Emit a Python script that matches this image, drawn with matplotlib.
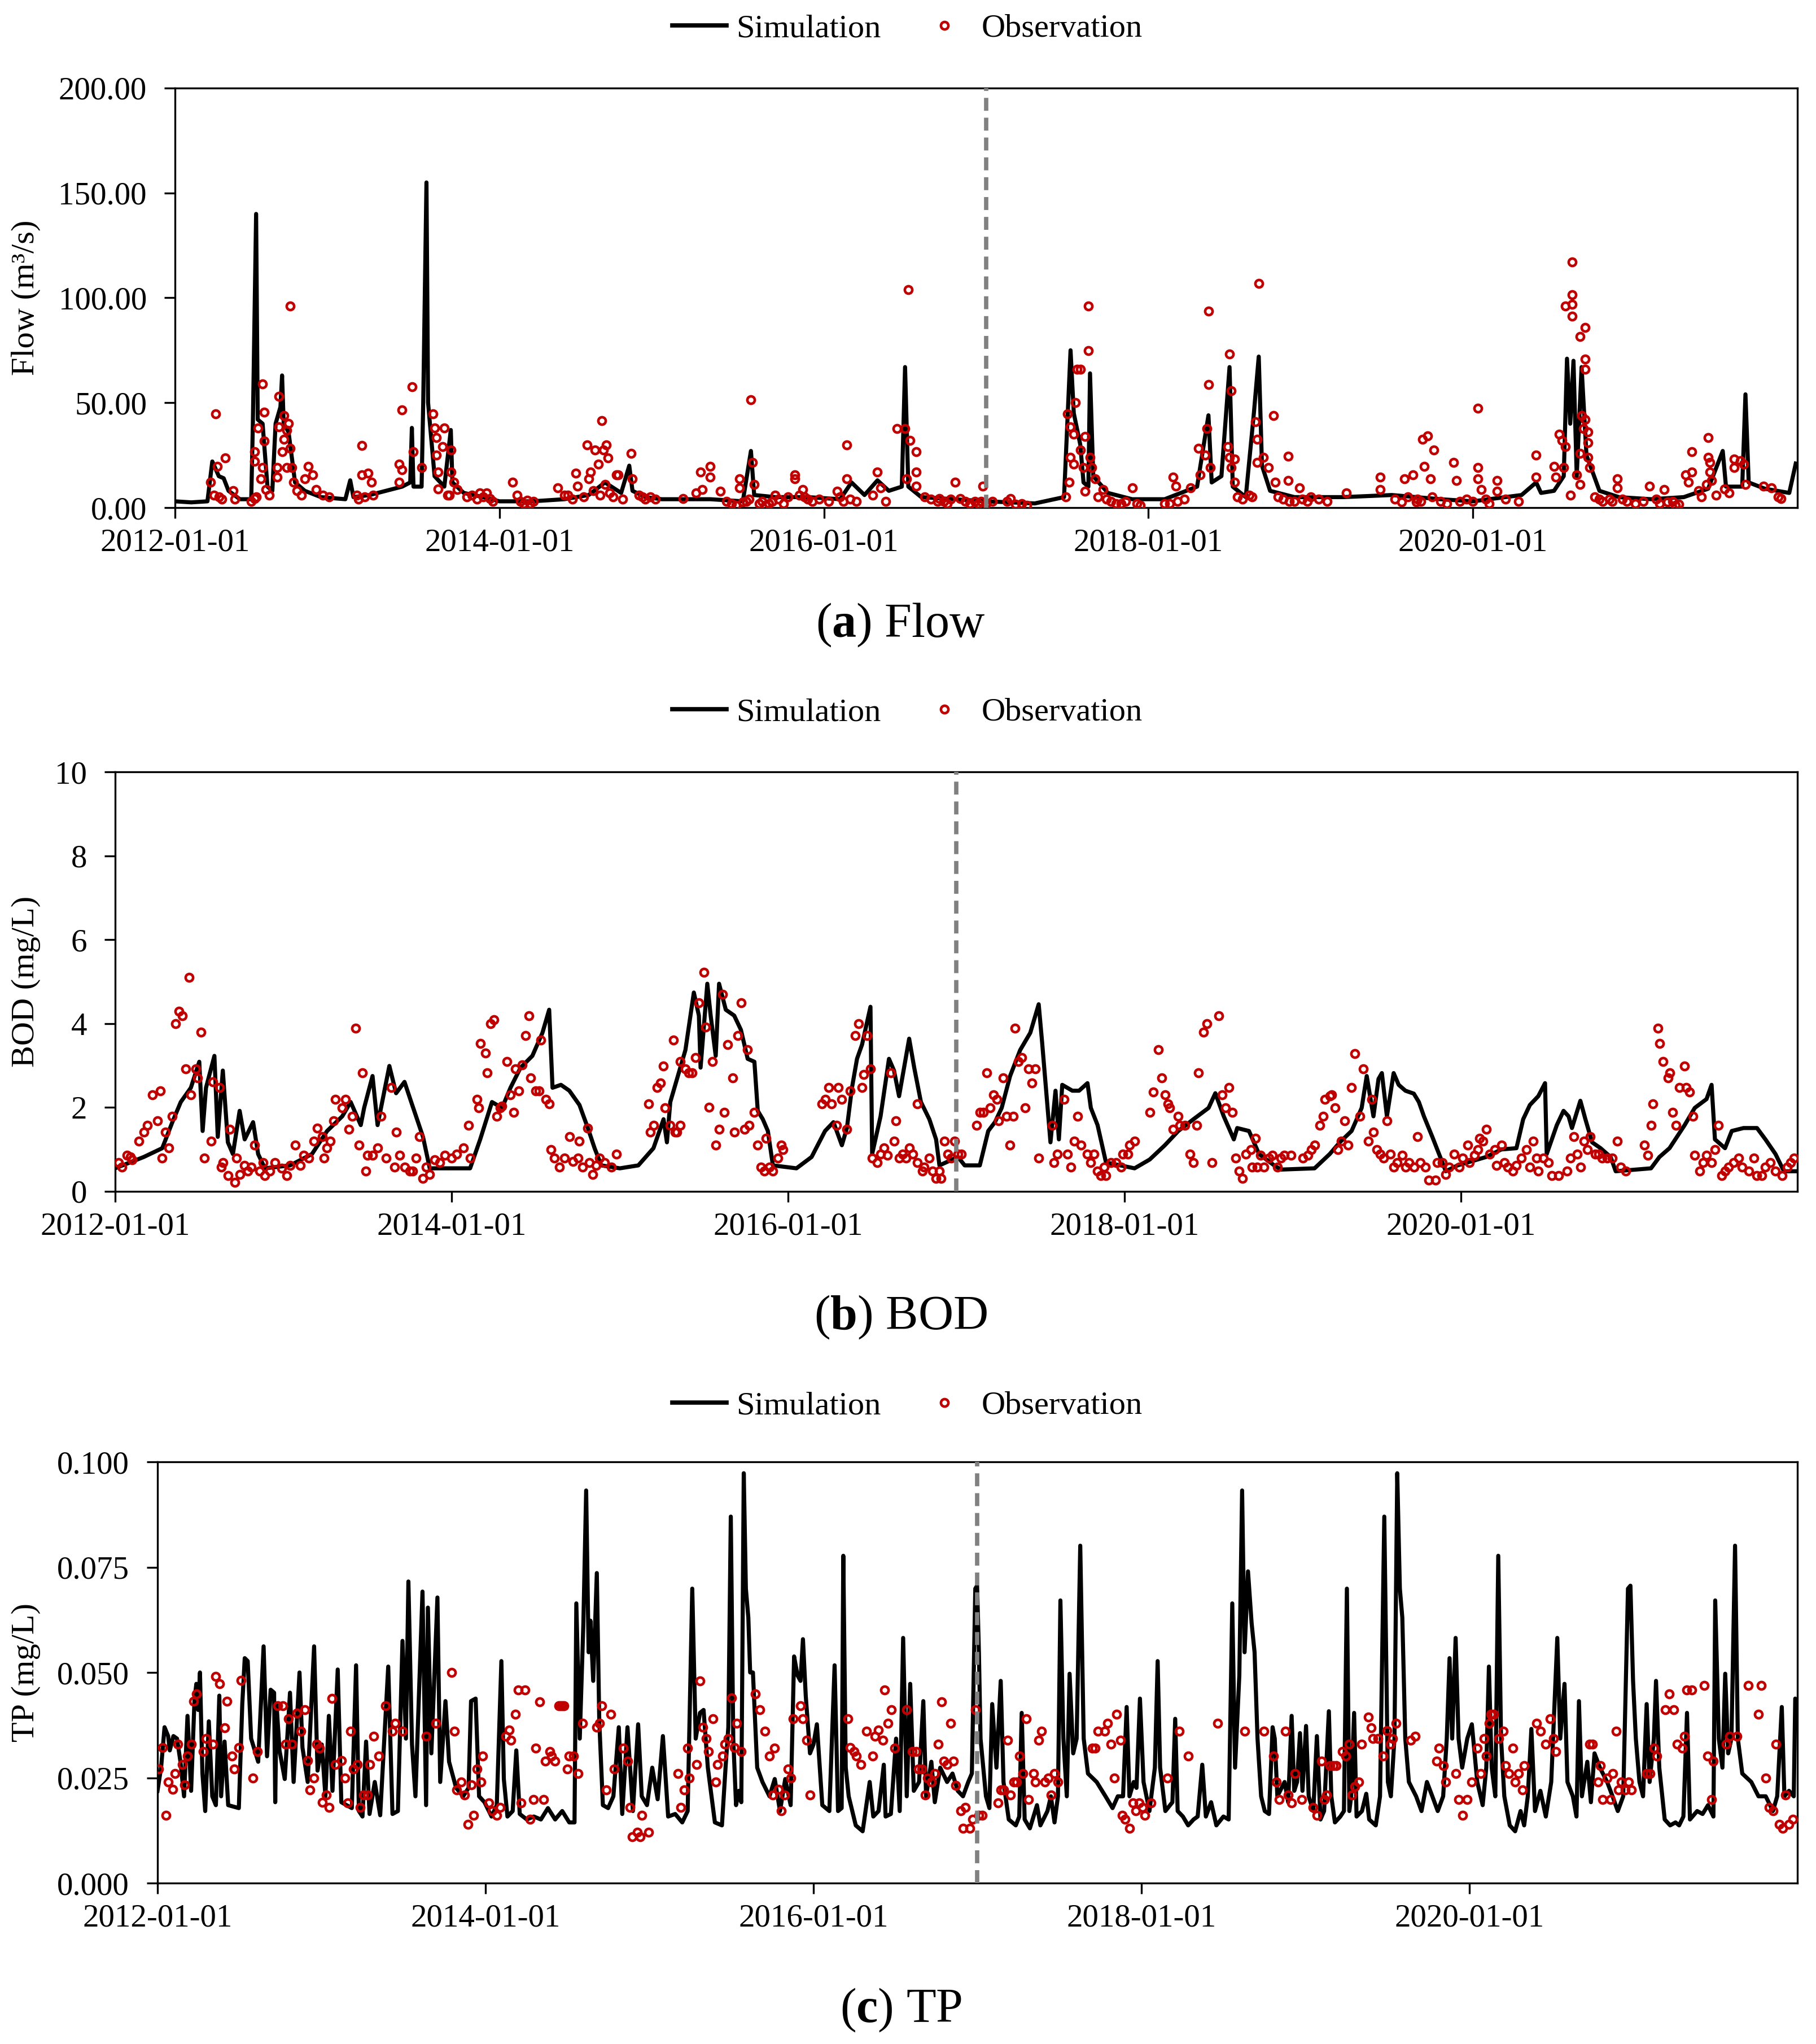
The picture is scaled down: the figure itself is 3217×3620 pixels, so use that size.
import matplotlib
matplotlib.use("Agg")
import matplotlib.pyplot as plt
from matplotlib.lines import Line2D
import numpy as np

plt.rcParams['font.family'] = ['Liberation Serif', 'DejaVu Serif']
plt.rcParams['mathtext.fontset'] = 'custom'
plt.rcParams['mathtext.rm'] = 'Liberation Serif'
plt.rcParams['mathtext.bf'] = 'Liberation Serif:bold'

# ---- x axis (decimal years) ----
year_ticks = [2012, 2014, 2016, 2018, 2020]
year_labels = ["2012-01-01", "2014-01-01", "2016-01-01", "2018-01-01", "2020-01-01"]
split_year = 2017.0

# ---- (a) Flow, m3/s ----
flow_sim = [
    (2012.00, 3), (2012.10, 2.5), (2012.20, 3), (2012.23, 22), (2012.27, 15), (2012.30, 14), (2012.33, 8),
    (2012.40, 4), (2012.47, 4), (2012.48, 40), (2012.50, 140), (2012.51, 42), (2012.54, 40), (2012.57, 10),
    (2012.60, 8), (2012.62, 40), (2012.65, 48), (2012.66, 63), (2012.67, 40), (2012.70, 36), (2012.74, 12),
    (2012.80, 8), (2012.90, 5), (2013.05, 4), (2013.08, 13), (2013.10, 5), (2013.20, 6), (2013.30, 8),
    (2013.40, 10), (2013.45, 12), (2013.46, 38), (2013.47, 10), (2013.52, 10), (2013.53, 50), (2013.55, 155),
    (2013.56, 50), (2013.60, 15), (2013.66, 10), (2013.70, 37), (2013.71, 12), (2013.78, 7), (2013.90, 5),
    (2014.00, 3), (2014.20, 3), (2014.40, 4), (2014.55, 6), (2014.65, 12), (2014.75, 7), (2014.80, 20),
    (2014.82, 8), (2014.90, 5), (2015.00, 4), (2015.30, 4), (2015.50, 3), (2015.55, 27), (2015.57, 6),
    (2015.70, 5), (2015.90, 5), (2016.10, 4), (2016.17, 12), (2016.25, 6), (2016.33, 13), (2016.40, 8),
    (2016.48, 10), (2016.50, 67), (2016.52, 10), (2016.60, 5), (2016.80, 4), (2017.00, 3), (2017.30, 2),
    (2017.48, 5), (2017.50, 40), (2017.52, 75), (2017.54, 45), (2017.58, 30), (2017.60, 12), (2017.63, 10),
    (2017.64, 64), (2017.66, 15), (2017.75, 7), (2017.90, 4), (2018.10, 4), (2018.30, 10), (2018.37, 44),
    (2018.39, 12), (2018.45, 15), (2018.50, 67), (2018.52, 10), (2018.60, 5), (2018.65, 45), (2018.68, 72),
    (2018.70, 20), (2018.75, 8), (2018.90, 5), (2019.20, 5), (2019.50, 6), (2019.80, 4), (2020.00, 3),
    (2020.30, 6), (2020.39, 12), (2020.42, 7), (2020.50, 8), (2020.56, 15), (2020.58, 71), (2020.60, 40),
    (2020.62, 70), (2020.64, 15), (2020.67, 67), (2020.70, 25), (2020.78, 8), (2020.90, 5), (2021.10, 4),
    (2021.30, 5), (2021.45, 9), (2021.54, 27), (2021.56, 10), (2021.66, 10), (2021.68, 54), (2021.70, 12),
    (2021.80, 9), (2021.95, 7), (2021.99, 21),
]
flow_obs = [
    (2012.22, 12), (2012.24, 6), (2012.25, 44.6), (2012.26, 19.7), (2012.31, 23.7), (2012.36, 8), (2012.37, 4),
    (2012.49, 26.6), (2012.49, 22), (2012.51, 38), (2012.53, 13.7), (2012.54, 59), (2012.55, 45.5),
    (2012.55, 31.8), (2012.54, 19), (2012.56, 8.6), (2012.49, 4.3), (2012.64, 53), (2012.64, 38.6),
    (2012.63, 19), (2012.63, 14.6), (2012.66, 26.6), (2012.67, 43.8), (2012.67, 32.6), (2012.69, 37),
    (2012.69, 19), (2012.70, 40), (2012.71, 96), (2012.71, 28.3), (2012.72, 19), (2012.73, 12), (2012.82, 19.7),
    (2012.80, 13.7), (2012.85, 15.5), (2012.87, 8.6), (2012.91, 6), (2013.15, 29.5), (2013.15, 15.5),
    (2013.19, 16.3), (2013.21, 12), (2013.12, 6), (2013.38, 20.6), (2013.40, 46.7), (2013.40, 18),
    (2013.38, 12), (2013.46, 57.5), (2013.47, 26.6), (2013.52, 19), (2013.59, 44.6), (2013.60, 38),
    (2013.61, 33.5), (2013.61, 25), (2013.62, 17), (2013.65, 29), (2013.66, 38), (2013.70, 27.5), (2013.70, 17),
    (2013.72, 12), (2013.74, 8.6), (2013.69, 6), (2013.92, 7), (2013.94, 4.3), (2014.08, 12), (2014.11, 6),
    (2014.17, 3.4), (2014.36, 9.4), (2014.42, 6), (2014.47, 16.3), (2014.48, 10.3), (2014.54, 30),
    (2014.55, 13.7), (2014.56, 17), (2014.59, 27.5), (2014.61, 20.6), (2014.63, 41.5), (2014.64, 27.5),
    (2014.66, 30), (2014.67, 23.7), (2014.65, 11), (2014.72, 15.5), (2014.73, 15.5), (2014.81, 25.8),
    (2014.82, 13.7), (2014.86, 6), (2014.93, 5), (2015.13, 4.3), (2015.21, 7), (2015.24, 17), (2015.30, 19.7),
    (2015.30, 14.6), (2015.25, 8.6), (2015.36, 7.7), (2015.48, 13.7), (2015.48, 9.4), (2015.55, 51.5),
    (2015.56, 21.5), (2015.57, 11), (2015.50, 2.6), (2015.70, 6), (2015.82, 15.5), (2015.82, 13.7),
    (2015.87, 8.6), (2016.08, 7.7), (2016.14, 30), (2016.14, 13.7), (2016.33, 17), (2016.35, 9.4),
    (2016.45, 37.8), (2016.52, 104), (2016.50, 37.8), (2016.53, 32), (2016.57, 26.6), (2016.57, 17),
    (2016.51, 13.7), (2016.57, 10.3), (2016.81, 12), (2016.71, 4.3), (2016.98, 10.3), (2016.84, 4.3),
    (2017.15, 4.3), (2017.18, 1.7), (2017.49, 5), (2017.50, 44.6), (2017.52, 38.6), (2017.54, 35),
    (2017.55, 50), (2017.56, 66), (2017.58, 66), (2017.52, 24), (2017.54, 20.6), (2017.58, 27.5),
    (2017.60, 19), (2017.61, 34), (2017.63, 96), (2017.63, 74.7), (2017.64, 24), (2017.65, 19), (2017.67, 13.7),
    (2017.61, 7.7), (2017.51, 12), (2017.72, 8.6), (2017.90, 9.4), (2018.15, 14.6), (2018.17, 10.3),
    (2018.26, 9.4), (2018.31, 28.3), (2018.32, 15.5), (2018.35, 25), (2018.36, 37.8), (2018.37, 58.7),
    (2018.37, 93.6), (2018.38, 19), (2018.49, 29), (2018.50, 24), (2018.50, 73.3), (2018.51, 55.8),
    (2018.53, 23.2), (2018.51, 19), (2018.53, 12), (2018.55, 5), (2018.64, 5), (2018.66, 41), (2018.67, 32.6),
    (2018.67, 21.5), (2018.68, 106.8), (2018.71, 24), (2018.74, 19), (2018.77, 43.8), (2018.78, 12),
    (2018.86, 24.4), (2018.86, 12.9), (2018.93, 9.4), (2019.00, 5), (2019.22, 7), (2019.43, 14.6),
    (2019.43, 8.6), (2019.56, 2.6), (2019.58, 13.7), (2019.63, 15.5), (2019.69, 32.6), (2019.72, 34.3),
    (2019.70, 19.7), (2019.74, 13.7), (2019.76, 27.5), (2019.65, 2.6), (2019.88, 21.5), (2019.90, 12.9),
    (2020.03, 19), (2020.03, 47.5), (2020.03, 13.7), (2020.05, 8.6), (2020.15, 12.9), (2020.15, 7.7),
    (2020.39, 25), (2020.39, 14.6), (2020.50, 19.7), (2020.51, 14.6), (2020.53, 35), (2020.55, 32),
    (2020.56, 19), (2020.57, 29), (2020.57, 96), (2020.61, 117), (2020.61, 101.6), (2020.61, 97),
    (2020.61, 91.3), (2020.66, 25.8), (2020.66, 81.5), (2020.67, 43.8), (2020.68, 37.8), (2020.69, 86),
    (2020.69, 70.7), (2020.69, 66), (2020.69, 42), (2020.71, 36), (2020.71, 31), (2020.71, 24), (2020.72, 19),
    (2020.64, 15.5), (2020.66, 11), (2020.89, 13.7), (2020.89, 9.4), (2021.09, 10.3), (2021.18, 8.6),
    (2021.20, 2.6), (2021.27, 1.7), (2021.31, 15.5), (2021.33, 12), (2021.35, 26.6), (2021.35, 17),
    (2021.45, 33.5), (2021.45, 24), (2021.46, 17), (2021.47, 12.9), (2021.46, 21.5), (2021.44, 11),
    (2021.61, 19), (2021.61, 23.2), (2021.65, 22.3), (2021.67, 20.6), (2021.68, 11), (2021.79, 10.3),
    (2021.84, 9.4), (2021.90, 4.3), (2021.88, 5),
]
flow_obs_low = [
    (2012.27, 5), (2012.29, 4), (2012.47, 3), (2012.50, 5), (2012.58, 6), (2012.75, 8), (2012.78, 6),
    (2012.95, 5), (2013.13, 4), (2013.17, 5), (2013.22, 6), (2013.62, 9), (2013.68, 6), (2013.80, 5),
    (2013.83, 6), (2013.86, 4), (2013.88, 7), (2013.90, 5), (2013.96, 3), (2014.13, 3), (2014.15, 2),
    (2014.19, 2), (2014.21, 3), (2014.40, 6), (2014.45, 4), (2014.52, 5), (2014.58, 8), (2014.62, 6),
    (2014.68, 7), (2014.70, 5), (2014.76, 4), (2014.88, 5), (2014.90, 4), (2014.96, 4), (2015.40, 3),
    (2015.43, 2), (2015.46, 1), (2015.52, 3), (2015.54, 4), (2015.60, 2), (2015.62, 3), (2015.64, 1),
    (2015.66, 2), (2015.68, 3), (2015.72, 4), (2015.75, 2), (2015.78, 5), (2015.85, 6), (2015.88, 5),
    (2015.90, 4), (2015.93, 3), (2015.97, 4), (2016.03, 3), (2016.10, 5), (2016.12, 3), (2016.16, 4),
    (2016.20, 3), (2016.30, 6), (2016.38, 3), (2016.62, 5), (2016.66, 4), (2016.70, 3), (2016.74, 3),
    (2016.76, 2), (2016.78, 4), (2016.87, 3), (2016.90, 2), (2016.93, 3), (2016.95, 2), (2016.97, 3),
    (2017.00, 2), (2017.04, 3), (2017.13, 3), (2017.22, 2), (2017.25, 1), (2017.69, 5), (2017.74, 4),
    (2017.77, 3), (2017.80, 2), (2017.83, 2), (2017.86, 3), (2017.93, 2), (2017.95, 1), (2018.10, 2),
    (2018.13, 2), (2018.18, 3), (2018.22, 4), (2018.58, 4), (2018.62, 6), (2018.80, 5), (2018.83, 4),
    (2018.87, 3), (2018.90, 3), (2018.95, 4), (2018.98, 3), (2019.05, 4), (2019.10, 3), (2019.52, 4),
    (2019.60, 5), (2019.66, 4), (2019.68, 3), (2019.75, 5), (2019.80, 3), (2019.84, 2), (2019.92, 3),
    (2019.96, 4), (2020.00, 3), (2020.08, 4), (2020.10, 2), (2020.20, 4), (2020.28, 3), (2020.60, 6),
    (2020.75, 5), (2020.78, 4), (2020.80, 3), (2020.84, 4), (2020.86, 3), (2020.92, 4), (2020.95, 3),
    (2021.00, 2), (2021.05, 3), (2021.13, 4), (2021.15, 2), (2021.23, 3), (2021.25, 1), (2021.39, 8),
    (2021.41, 5), (2021.50, 6), (2021.55, 9), (2021.58, 7),
]

# ---- (b) BOD, mg/L ----
bod_sim = [
    (2012.00, 0.55), (2012.17, 0.82), (2012.28, 1.03), (2012.34, 1.65), (2012.39, 2.13), (2012.45, 2.47),
    (2012.50, 3.09), (2012.52, 1.44), (2012.54, 2.47), (2012.59, 3.23), (2012.61, 1.30), (2012.64, 2.88),
    (2012.67, 1.17), (2012.70, 0.89), (2012.74, 1.92), (2012.77, 1.24), (2012.82, 1.65), (2012.85, 0.89),
    (2012.89, 0.55), (2013.04, 0.62), (2013.17, 0.89), (2013.26, 1.44), (2013.35, 1.79), (2013.40, 2.13),
    (2013.46, 1.58), (2013.48, 1.99), (2013.53, 2.75), (2013.56, 1.58), (2013.63, 2.99), (2013.67, 2.34),
    (2013.72, 2.61), (2013.76, 2.13), (2013.83, 1.30), (2013.87, 0.55), (2014.11, 0.55), (2014.17, 1.24),
    (2014.24, 2.13), (2014.30, 1.99), (2014.35, 2.47), (2014.41, 2.95), (2014.48, 3.23), (2014.54, 3.78),
    (2014.58, 4.33), (2014.60, 2.47), (2014.65, 2.54), (2014.70, 2.40), (2014.76, 2.06), (2014.81, 1.51),
    (2014.85, 1.03), (2014.89, 0.62), (2015.00, 0.55), (2015.11, 0.62), (2015.20, 1.03), (2015.26, 1.72),
    (2015.28, 1.17), (2015.30, 2.13), (2015.39, 3.37), (2015.44, 4.74), (2015.47, 4.19), (2015.48, 2.95),
    (2015.52, 4.95), (2015.54, 4.19), (2015.57, 3.23), (2015.59, 4.95), (2015.63, 4.33), (2015.68, 4.19),
    (2015.72, 3.85), (2015.76, 3.16), (2015.80, 3.09), (2015.82, 1.92), (2015.85, 1.72), (2015.88, 1.44),
    (2015.91, 0.62), (2016.05, 0.55), (2016.14, 0.82), (2016.22, 1.44), (2016.27, 1.65), (2016.32, 1.10),
    (2016.35, 1.51), (2016.38, 2.47), (2016.41, 3.16), (2016.44, 3.50), (2016.49, 4.40), (2016.50, 0.89),
    (2016.55, 1.79), (2016.60, 3.16), (2016.63, 2.88), (2016.66, 2.27), (2016.72, 3.64), (2016.75, 2.95),
    (2016.79, 2.13), (2016.84, 1.72), (2016.88, 1.24), (2016.90, 0.62), (2017.01, 0.82), (2017.05, 0.62),
    (2017.14, 0.62), (2017.19, 1.44), (2017.23, 1.65), (2017.27, 1.99), (2017.32, 2.75), (2017.38, 3.37),
    (2017.44, 3.78), (2017.49, 4.46), (2017.51, 3.57), (2017.54, 2.13), (2017.56, 1.17), (2017.59, 2.40),
    (2017.61, 1.24), (2017.63, 2.54), (2017.69, 2.40), (2017.73, 2.40), (2017.78, 2.58), (2017.80, 1.99),
    (2017.84, 1.58), (2017.89, 0.69), (2018.06, 0.55), (2018.15, 0.76), (2018.24, 1.10), (2018.32, 1.44),
    (2018.41, 1.72), (2018.50, 1.99), (2018.54, 2.34), (2018.59, 1.79), (2018.65, 1.24), (2018.67, 1.51),
    (2018.74, 1.44), (2018.80, 0.89), (2018.89, 0.62), (2018.93, 0.52), (2019.13, 0.55), (2019.22, 0.89),
    (2019.28, 1.17), (2019.35, 1.44), (2019.41, 1.99), (2019.44, 2.75), (2019.48, 1.79), (2019.51, 2.68),
    (2019.53, 2.82), (2019.56, 1.79), (2019.60, 2.82), (2019.63, 2.54), (2019.67, 2.40), (2019.72, 2.33),
    (2019.75, 2.13), (2019.78, 1.79), (2019.83, 1.30), (2019.87, 0.89), (2019.91, 0.48), (2019.98, 0.62),
    (2020.15, 0.82), (2020.24, 1.00), (2020.33, 1.03), (2020.37, 1.72), (2020.41, 2.06), (2020.46, 2.27),
    (2020.50, 2.58), (2020.51, 0.89), (2020.57, 1.58), (2020.61, 1.92), (2020.64, 1.79), (2020.66, 1.51),
    (2020.71, 2.16), (2020.74, 1.72), (2020.78, 1.17), (2020.83, 1.03), (2020.89, 0.82), (2020.92, 0.48),
    (2021.13, 0.55), (2021.18, 0.82), (2021.24, 1.03), (2021.33, 1.58), (2021.39, 1.99), (2021.46, 2.20),
    (2021.49, 2.54), (2021.51, 1.24), (2021.57, 1.03), (2021.61, 1.44), (2021.68, 1.51), (2021.76, 1.51),
    (2021.81, 1.24), (2021.87, 0.89), (2021.92, 0.48), (2022.00, 0.48),
]
bod_obs = [
    (2012.02, 0.69), (2012.04, 0.58), (2012.07, 0.86), (2012.09, 0.82), (2012.10, 0.76), (2012.14, 1.20),
    (2012.17, 1.41), (2012.19, 1.58), (2012.22, 2.30), (2012.25, 1.68), (2012.27, 2.40), (2012.28, 0.79),
    (2012.30, 1.41), (2012.32, 1.03), (2012.34, 1.79), (2012.36, 4.00), (2012.38, 4.29), (2012.40, 4.19),
    (2012.42, 2.92), (2012.44, 5.10), (2012.45, 2.30), (2012.48, 2.92), (2012.49, 2.71), (2012.51, 3.79),
    (2012.53, 0.79), (2012.57, 1.20), (2012.58, 2.61), (2012.62, 2.47), (2012.63, 0.58), (2012.64, 0.69),
    (2012.67, 0.38), (2012.68, 1.48), (2012.71, 0.21), (2012.72, 0.79), (2012.74, 0.41), (2012.77, 0.62),
    (2012.79, 0.48), (2012.81, 0.58), (2012.83, 1.10), (2012.86, 0.48), (2012.88, 0.69), (2012.89, 0.38),
    (2012.92, 0.48), (2012.95, 0.69), (2012.99, 0.55), (2013.02, 0.38), (2013.04, 0.62), (2013.07, 1.10),
    (2013.10, 0.62), (2013.12, 0.86), (2013.15, 0.79), (2013.18, 1.20), (2013.20, 1.51), (2013.23, 1.30),
    (2013.24, 0.79), (2013.26, 1.03), (2013.28, 1.20), (2013.30, 1.68), (2013.31, 2.20), (2013.35, 1.99),
    (2013.37, 2.20), (2013.39, 1.48), (2013.41, 1.79), (2013.43, 3.89), (2013.45, 1.10), (2013.47, 2.82),
    (2013.49, 0.48), (2013.50, 0.86), (2013.53, 0.86), (2013.56, 1.03), (2013.58, 1.79), (2013.61, 0.79),
    (2013.64, 2.47), (2013.66, 0.58), (2013.67, 1.41), (2013.69, 0.86), (2013.72, 0.58), (2013.75, 0.48),
    (2013.77, 0.48), (2013.79, 0.79), (2013.81, 1.30), (2013.83, 0.31), (2013.85, 0.58), (2013.87, 0.41),
    (2013.90, 0.76), (2013.93, 0.69), (2013.96, 0.86), (2014.00, 0.79), (2014.03, 0.89), (2014.07, 1.03),
    (2014.10, 1.58), (2014.11, 0.79), (2014.15, 2.20), (2014.16, 1.99), (2014.17, 3.52), (2014.20, 3.30),
    (2014.21, 2.82), (2014.23, 4.00), (2014.25, 4.09), (2014.27, 1.79), (2014.29, 1.99), (2014.30, 2.03),
    (2014.33, 3.09), (2014.35, 2.30), (2014.37, 1.89), (2014.38, 2.92), (2014.40, 2.40), (2014.42, 3.02),
    (2014.44, 3.71), (2014.46, 4.19), (2014.47, 2.71), (2014.50, 2.40), (2014.52, 2.40), (2014.53, 3.61),
    (2014.56, 2.20), (2014.58, 2.09), (2014.59, 1.00), (2014.61, 0.79), (2014.64, 0.58), (2014.67, 0.79),
    (2014.70, 1.30), (2014.72, 0.72), (2014.75, 0.79), (2014.76, 1.20), (2014.78, 0.58), (2014.81, 1.51),
    (2014.82, 0.69), (2014.84, 0.41), (2014.86, 0.62), (2014.88, 0.79), (2014.91, 0.69), (2014.95, 0.58),
    (2014.98, 0.89), (2015.17, 2.09), (2015.18, 1.41), (2015.20, 1.58), (2015.22, 2.47), (2015.24, 2.58),
    (2015.26, 2.99), (2015.27, 1.99), (2015.30, 1.58), (2015.32, 3.61), (2015.33, 1.41), (2015.36, 3.09),
    (2015.34, 1.41), (2015.36, 1.58), (2015.39, 2.92), (2015.41, 2.82), (2015.43, 2.82), (2015.45, 3.19),
    (2015.47, 4.50), (2015.50, 5.22), (2015.51, 3.91), (2015.53, 2.01), (2015.55, 3.09), (2015.57, 1.10),
    (2015.59, 1.48), (2015.61, 4.70), (2015.62, 1.89), (2015.64, 3.50), (2015.67, 2.71), (2015.68, 1.41),
    (2015.70, 3.71), (2015.72, 4.50), (2015.74, 1.48), (2015.76, 3.38), (2015.77, 1.58), (2015.80, 1.89),
    (2015.82, 1.10), (2015.84, 0.58), (2015.86, 0.48), (2015.87, 1.27), (2015.89, 0.58), (2015.91, 0.48),
    (2015.94, 0.79), (2015.96, 1.10), (2015.97, 1.00), (2016.20, 2.09), (2016.22, 2.20), (2016.24, 2.47),
    (2016.26, 2.09), (2016.29, 1.58), (2016.30, 2.47), (2016.32, 2.20), (2016.35, 1.48), (2016.37, 2.40),
    (2016.40, 3.71), (2016.42, 4.00), (2016.44, 2.47), (2016.45, 2.78), (2016.47, 3.71), (2016.49, 2.92),
    (2016.50, 0.79), (2016.53, 0.69), (2016.55, 0.89), (2016.57, 1.03), (2016.59, 0.86), (2016.61, 2.82),
    (2016.63, 1.20), (2016.64, 1.68), (2016.66, 0.79), (2016.68, 0.89), (2016.70, 0.79), (2016.72, 1.03),
    (2016.74, 0.89), (2016.77, 2.09), (2016.77, 0.69), (2016.80, 0.48), (2016.81, 0.58), (2016.84, 0.79),
    (2016.86, 0.48), (2016.88, 0.31), (2016.90, 0.48), (2016.91, 0.31), (2016.93, 1.20), (2016.95, 0.89),
    (2016.97, 0.79), (2016.99, 1.20), (2017.01, 0.89), (2017.03, 0.89), (2017.12, 1.58), (2017.14, 1.89),
    (2017.16, 1.89), (2017.18, 2.82), (2017.20, 1.99), (2017.22, 2.30), (2017.24, 2.20), (2017.25, 1.68),
    (2017.28, 2.71), (2017.30, 1.79), (2017.32, 1.10), (2017.34, 1.79), (2017.35, 3.89), (2017.37, 3.09),
    (2017.39, 3.19), (2017.41, 1.99), (2017.43, 2.92), (2017.45, 2.58), (2017.47, 2.92), (2017.49, 0.79),
    (2017.57, 1.58), (2017.58, 0.69), (2017.60, 0.89), (2017.64, 2.20), (2017.66, 0.89), (2017.68, 0.58),
    (2017.70, 1.20), (2017.72, 1.79), (2017.74, 1.10), (2017.78, 0.89), (2017.80, 0.69), (2017.82, 0.89),
    (2017.84, 0.48), (2017.86, 0.38), (2017.88, 0.58), (2017.89, 0.38), (2017.92, 0.69), (2017.95, 0.69),
    (2017.98, 0.58), (2017.99, 0.89), (2018.02, 0.89), (2018.03, 1.10), (2018.06, 1.20), (2018.15, 1.89),
    (2018.17, 2.37), (2018.20, 3.38), (2018.22, 2.71), (2018.24, 2.30), (2018.26, 2.09), (2018.27, 1.99),
    (2018.29, 1.48), (2018.32, 1.79), (2018.33, 1.58), (2018.36, 1.58), (2018.39, 0.89), (2018.41, 0.69),
    (2018.43, 1.58), (2018.44, 2.82), (2018.47, 3.79), (2018.49, 4.00), (2018.52, 0.69), (2018.56, 4.19),
    (2018.58, 2.30), (2018.60, 1.99), (2018.62, 2.47), (2018.64, 1.89), (2018.66, 0.79), (2018.68, 0.48),
    (2018.70, 0.31), (2018.72, 0.89), (2018.75, 1.00), (2018.78, 1.27), (2018.76, 0.58), (2018.79, 0.58),
    (2018.81, 0.86), (2018.83, 0.58), (2018.86, 0.79), (2018.88, 0.86), (2018.91, 0.58), (2018.93, 0.79),
    (2018.95, 0.86), (2018.99, 0.86), (2019.06, 0.79), (2019.09, 0.86), (2019.11, 1.00), (2019.13, 1.10),
    (2019.16, 1.58), (2019.18, 1.79), (2019.19, 2.20), (2019.22, 2.27), (2019.23, 2.30), (2019.25, 1.99),
    (2019.27, 1.00), (2019.29, 1.20), (2019.31, 1.68), (2019.33, 1.10), (2019.35, 2.47), (2019.37, 3.28),
    (2019.40, 1.79), (2019.42, 2.92), (2019.45, 1.20), (2019.47, 2.20), (2019.48, 1.41), (2019.50, 1.00),
    (2019.52, 0.89), (2019.54, 0.79), (2019.56, 1.68), (2019.58, 0.89), (2019.60, 0.58), (2019.62, 0.69),
    (2019.65, 0.86), (2019.67, 0.58), (2019.69, 0.69), (2019.72, 0.58), (2019.74, 1.30), (2019.76, 0.69),
    (2019.79, 0.58), (2019.81, 0.27), (2019.85, 0.27), (2019.86, 0.69), (2019.89, 0.69), (2019.91, 0.41),
    (2019.93, 0.58), (2019.96, 0.89), (2019.99, 0.58), (2020.01, 0.79), (2020.04, 1.10), (2020.05, 0.69),
    (2020.08, 0.86), (2020.10, 1.00), (2020.11, 1.27), (2020.13, 1.20), (2020.15, 1.48), (2020.17, 0.89),
    (2020.20, 1.00), (2020.21, 0.62), (2020.24, 1.10), (2020.26, 0.69), (2020.28, 0.58), (2020.31, 0.48),
    (2020.33, 0.62), (2020.36, 0.79), (2020.39, 1.00), (2020.41, 0.58), (2020.43, 1.20), (2020.45, 0.79),
    (2020.46, 0.48), (2020.49, 0.79), (2020.52, 0.69), (2020.54, 0.38), (2020.58, 0.38), (2020.63, 0.48),
    (2020.65, 0.79), (2020.67, 1.30), (2020.69, 0.89), (2020.71, 0.58), (2020.73, 1.20), (2020.75, 1.00),
    (2020.77, 1.30), (2020.80, 0.89), (2020.82, 0.89), (2020.84, 0.79), (2020.87, 0.79), (2020.90, 0.79),
    (2020.93, 1.20), (2020.95, 0.58), (2020.98, 0.48), (2021.09, 1.10), (2021.11, 0.86), (2021.13, 1.58),
    (2021.14, 2.09), (2021.17, 3.89), (2021.18, 3.52), (2021.20, 3.09), (2021.23, 2.71), (2021.24, 2.82),
    (2021.26, 1.89), (2021.28, 1.58), (2021.30, 2.47), (2021.33, 2.99), (2021.34, 2.47), (2021.36, 2.37),
    (2021.38, 1.79), (2021.39, 0.86), (2021.42, 0.48), (2021.44, 0.69), (2021.46, 0.86), (2021.49, 0.69),
    (2021.51, 1.00), (2021.53, 1.58), (2021.55, 0.38), (2021.57, 0.48), (2021.59, 0.58), (2021.62, 0.69),
    (2021.65, 0.79), (2021.67, 0.58), (2021.71, 0.48), (2021.74, 0.79), (2021.76, 0.38), (2021.79, 0.38),
    (2021.81, 0.58), (2021.84, 0.69), (2021.87, 0.48), (2021.91, 0.38), (2021.94, 0.58), (2021.96, 0.69),
    (2021.98, 0.79),
]

# ---- (c) TP, mg/L ----
tp_sim = [
    (2012.000, 0.0219), (2012.022, 0.0274), (2012.043, 0.0370), (2012.065, 0.0349), (2012.075, 0.0315),
    (2012.097, 0.0349), (2012.119, 0.0343), (2012.140, 0.0288), (2012.162, 0.0206), (2012.183, 0.0397),
    (2012.205, 0.0219), (2012.226, 0.0438), (2012.237, 0.0473), (2012.248, 0.0411), (2012.259, 0.0500),
    (2012.274, 0.0260), (2012.291, 0.0171), (2012.313, 0.0384), (2012.334, 0.0206), (2012.356, 0.0185),
    (2012.377, 0.0445), (2012.388, 0.0206), (2012.409, 0.0336), (2012.431, 0.0185), (2012.496, 0.0178),
    (2012.517, 0.0425), (2012.532, 0.0534), (2012.550, 0.0527), (2012.571, 0.0343), (2012.614, 0.0288),
    (2012.647, 0.0562), (2012.668, 0.0301), (2012.690, 0.0459), (2012.711, 0.0452), (2012.718, 0.0192),
    (2012.726, 0.0425), (2012.744, 0.0315), (2012.776, 0.0247), (2012.808, 0.0452), (2012.830, 0.0240),
    (2012.866, 0.0500), (2012.884, 0.0322), (2012.916, 0.0240), (2012.955, 0.0562), (2012.976, 0.0267),
    (2013.002, 0.0329), (2013.024, 0.0206), (2013.045, 0.0397), (2013.067, 0.0219), (2013.099, 0.0507),
    (2013.121, 0.0192), (2013.185, 0.0178), (2013.211, 0.0517), (2013.228, 0.0171), (2013.250, 0.0158),
    (2013.272, 0.0336), (2013.293, 0.0164), (2013.325, 0.0240), (2013.358, 0.0161), (2013.407, 0.0514),
    (2013.433, 0.0164), (2013.466, 0.0171), (2013.494, 0.0575), (2013.515, 0.0343), (2013.530, 0.0716),
    (2013.552, 0.0329), (2013.573, 0.0206), (2013.616, 0.0692), (2013.638, 0.0185), (2013.649, 0.0654),
    (2013.670, 0.0308), (2013.707, 0.0678), (2013.724, 0.0240), (2013.756, 0.0432), (2013.778, 0.0288),
    (2013.821, 0.0226), (2013.864, 0.0206), (2013.897, 0.0226), (2013.912, 0.0432), (2013.940, 0.0438),
    (2013.961, 0.0206), (2013.994, 0.0192), (2014.037, 0.0158), (2014.069, 0.0185), (2014.097, 0.0527),
    (2014.112, 0.0247), (2014.134, 0.0158), (2014.166, 0.0171), (2014.188, 0.0315), (2014.209, 0.0164),
    (2014.252, 0.0151), (2014.295, 0.0158), (2014.338, 0.0151), (2014.381, 0.0178), (2014.425, 0.0151),
    (2014.468, 0.0171), (2014.511, 0.0144), (2014.543, 0.0144), (2014.554, 0.0664), (2014.575, 0.0343),
    (2014.597, 0.0617), (2014.614, 0.0932), (2014.629, 0.0548), (2014.640, 0.0623), (2014.657, 0.0480),
    (2014.679, 0.0736), (2014.694, 0.0384), (2014.716, 0.0185), (2014.748, 0.0178), (2014.780, 0.0206),
    (2014.813, 0.0370), (2014.834, 0.0164), (2014.866, 0.0370), (2014.899, 0.0171), (2014.931, 0.0377),
    (2014.953, 0.0206), (2014.985, 0.0185), (2015.017, 0.0274), (2015.050, 0.0199), (2015.082, 0.0349),
    (2015.114, 0.0158), (2015.157, 0.0164), (2015.200, 0.0144), (2015.233, 0.0171), (2015.261, 0.0699),
    (2015.282, 0.0343), (2015.308, 0.0404), (2015.330, 0.0411), (2015.356, 0.0274), (2015.399, 0.0144),
    (2015.442, 0.0137), (2015.464, 0.0274), (2015.481, 0.0370), (2015.496, 0.0870), (2015.511, 0.0343),
    (2015.528, 0.0185), (2015.545, 0.0219), (2015.560, 0.0192), (2015.575, 0.0973), (2015.588, 0.0699),
    (2015.603, 0.0630), (2015.614, 0.0500), (2015.631, 0.0500), (2015.657, 0.0274), (2015.689, 0.0240),
    (2015.732, 0.0206), (2015.764, 0.0247), (2015.796, 0.0171), (2015.828, 0.0247), (2015.861, 0.0185),
    (2015.882, 0.0538), (2015.903, 0.0493), (2015.921, 0.0480), (2015.936, 0.0579), (2015.953, 0.0445),
    (2015.979, 0.0308), (2016.000, 0.0329), (2016.021, 0.0377), (2016.054, 0.0185), (2016.097, 0.0171),
    (2016.129, 0.0517), (2016.150, 0.0171), (2016.172, 0.0178), (2016.182, 0.0777), (2016.197, 0.0274),
    (2016.215, 0.0206), (2016.258, 0.0137), (2016.300, 0.0123), (2016.343, 0.0240), (2016.365, 0.0158),
    (2016.397, 0.0171), (2016.429, 0.0281), (2016.440, 0.0158), (2016.472, 0.0164), (2016.504, 0.0343),
    (2016.526, 0.0171), (2016.547, 0.0582), (2016.569, 0.0206), (2016.590, 0.0473), (2016.612, 0.0219),
    (2016.644, 0.0240), (2016.670, 0.0432), (2016.687, 0.0206), (2016.719, 0.0288), (2016.740, 0.0192),
    (2016.773, 0.0274), (2016.815, 0.0240), (2016.848, 0.0260), (2016.880, 0.0219), (2016.912, 0.0206),
    (2016.944, 0.0240), (2016.966, 0.0260), (2016.987, 0.0699), (2016.998, 0.0706), (2017.009, 0.0548),
    (2017.019, 0.0343), (2017.052, 0.0206), (2017.073, 0.0178), (2017.090, 0.0425), (2017.116, 0.0274),
    (2017.142, 0.0480), (2017.159, 0.0240), (2017.191, 0.0151), (2017.234, 0.0137), (2017.255, 0.0158),
    (2017.270, 0.0404), (2017.288, 0.0151), (2017.320, 0.0130), (2017.363, 0.0185), (2017.384, 0.0137),
    (2017.427, 0.0171), (2017.448, 0.0206), (2017.470, 0.0144), (2017.491, 0.0206), (2017.506, 0.0671),
    (2017.524, 0.0343), (2017.545, 0.0206), (2017.562, 0.0497), (2017.584, 0.0308), (2017.605, 0.0343),
    (2017.627, 0.0801), (2017.648, 0.0343), (2017.674, 0.0260), (2017.727, 0.0240), (2017.781, 0.0206),
    (2017.824, 0.0178), (2017.856, 0.0206), (2017.888, 0.0206), (2017.910, 0.0418), (2017.927, 0.0206),
    (2017.953, 0.0240), (2017.970, 0.0226), (2017.991, 0.0438), (2018.013, 0.0240), (2018.049, 0.0171),
    (2018.082, 0.0274), (2018.099, 0.0527), (2018.114, 0.0274), (2018.146, 0.0171), (2018.189, 0.0192),
    (2018.206, 0.0390), (2018.221, 0.0171), (2018.253, 0.0158), (2018.285, 0.0137), (2018.318, 0.0151),
    (2018.343, 0.0158), (2018.371, 0.0281), (2018.393, 0.0158), (2018.425, 0.0192), (2018.457, 0.0137),
    (2018.500, 0.0158), (2018.532, 0.0151), (2018.554, 0.0664), (2018.571, 0.0274), (2018.597, 0.0493),
    (2018.614, 0.0932), (2018.629, 0.0548), (2018.650, 0.0740), (2018.672, 0.0617), (2018.690, 0.0548),
    (2018.708, 0.0343), (2018.730, 0.0206), (2018.752, 0.0171), (2018.778, 0.0164), (2018.800, 0.0370),
    (2018.813, 0.0343), (2018.829, 0.0206), (2018.873, 0.0240), (2018.895, 0.0192), (2018.916, 0.0397),
    (2018.932, 0.0219), (2018.949, 0.0240), (2018.967, 0.0356), (2018.982, 0.0219), (2019.004, 0.0373),
    (2019.020, 0.0206), (2019.048, 0.0171), (2019.070, 0.0349), (2019.092, 0.0151), (2019.114, 0.0171),
    (2019.143, 0.0408), (2019.158, 0.0206), (2019.180, 0.0144), (2019.213, 0.0158), (2019.235, 0.0171),
    (2019.253, 0.0699), (2019.268, 0.0171), (2019.279, 0.0206), (2019.297, 0.0404), (2019.312, 0.0158),
    (2019.345, 0.0171), (2019.371, 0.0212), (2019.389, 0.0151), (2019.429, 0.0137), (2019.455, 0.0206),
    (2019.481, 0.0870), (2019.503, 0.0240), (2019.521, 0.0206), (2019.543, 0.0343), (2019.560, 0.0973),
    (2019.576, 0.0699), (2019.591, 0.0630), (2019.609, 0.0343), (2019.631, 0.0240), (2019.675, 0.0206),
    (2019.708, 0.0171), (2019.741, 0.0240), (2019.774, 0.0206), (2019.807, 0.0171), (2019.840, 0.0206),
    (2019.862, 0.0343), (2019.879, 0.0534), (2019.895, 0.0343), (2019.916, 0.0582), (2019.934, 0.0343),
    (2019.956, 0.0274), (2019.987, 0.0343), (2020.015, 0.0377), (2020.048, 0.0240), (2020.081, 0.0185),
    (2020.103, 0.0274), (2020.119, 0.0514), (2020.136, 0.0274), (2020.158, 0.0206), (2020.176, 0.0777),
    (2020.193, 0.0343), (2020.213, 0.0206), (2020.246, 0.0137), (2020.279, 0.0123), (2020.312, 0.0171),
    (2020.334, 0.0137), (2020.356, 0.0206), (2020.378, 0.0366), (2020.400, 0.0171), (2020.433, 0.0219),
    (2020.466, 0.0158), (2020.499, 0.0240), (2020.536, 0.0582), (2020.554, 0.0343), (2020.580, 0.0473),
    (2020.598, 0.0240), (2020.631, 0.0206), (2020.653, 0.0158), (2020.668, 0.0432), (2020.686, 0.0206),
    (2020.719, 0.0288), (2020.741, 0.0192), (2020.763, 0.0308), (2020.796, 0.0274), (2020.840, 0.0240),
    (2020.873, 0.0206), (2020.905, 0.0171), (2020.938, 0.0206), (2020.967, 0.0699), (2020.982, 0.0706),
    (2020.998, 0.0480), (2021.015, 0.0343), (2021.037, 0.0240), (2021.059, 0.0206), (2021.081, 0.0425),
    (2021.099, 0.0240), (2021.125, 0.0343), (2021.138, 0.0480), (2021.158, 0.0274), (2021.191, 0.0151),
    (2021.224, 0.0137), (2021.257, 0.0144), (2021.279, 0.0137), (2021.305, 0.0158), (2021.327, 0.0404),
    (2021.345, 0.0151), (2021.389, 0.0171), (2021.422, 0.0164), (2021.455, 0.0185), (2021.488, 0.0158),
    (2021.499, 0.0671), (2021.521, 0.0343), (2021.543, 0.0274), (2021.560, 0.0497), (2021.578, 0.0308),
    (2021.598, 0.0343), (2021.620, 0.0801), (2021.637, 0.0343), (2021.664, 0.0260), (2021.719, 0.0240),
    (2021.763, 0.0206), (2021.807, 0.0206), (2021.851, 0.0171), (2021.877, 0.0206), (2021.905, 0.0418),
    (2021.921, 0.0206), (2021.949, 0.0219), (2021.978, 0.0206), (2021.987, 0.0438), (2022.000, 0.0432),
]
tp_obs = [
    (2012.006, 0.0271), (2012.032, 0.0322), (2012.050, 0.0161), (2012.065, 0.0240), (2012.093, 0.0223),
    (2012.108, 0.0260), (2012.123, 0.0330), (2012.151, 0.0281), (2012.166, 0.0233), (2012.183, 0.0301),
    (2012.205, 0.0330), (2012.222, 0.0432), (2012.237, 0.0449), (2012.280, 0.0312), (2012.295, 0.0343),
    (2012.338, 0.0330), (2012.356, 0.0490), (2012.377, 0.0473), (2012.409, 0.0369), (2012.425, 0.0432),
    (2012.453, 0.0301), (2012.468, 0.0271), (2012.496, 0.0322), (2012.511, 0.0481), (2012.582, 0.0250),
    (2012.610, 0.0312), (2012.733, 0.0421), (2012.765, 0.0421), (2012.782, 0.0330), (2012.797, 0.0390),
    (2012.819, 0.0330), (2012.851, 0.0403), (2012.873, 0.0360), (2012.899, 0.0411), (2012.916, 0.0291),
    (2012.955, 0.0250), (2012.931, 0.0221), (2012.970, 0.0330), (2012.987, 0.0321), (2013.006, 0.0192),
    (2013.030, 0.0209), (2013.045, 0.0179), (2013.063, 0.0438), (2013.084, 0.0281), (2013.121, 0.0291),
    (2013.142, 0.0250), (2013.159, 0.0190), (2013.179, 0.0360), (2013.196, 0.0271), (2013.218, 0.0281),
    (2013.235, 0.0179), (2013.256, 0.0209), (2013.282, 0.0209), (2013.293, 0.0281), (2013.317, 0.0349),
    (2013.351, 0.0301), (2013.390, 0.0421), (2013.433, 0.0360), (2013.450, 0.0380), (2013.494, 0.0360),
    (2013.638, 0.0349), (2013.696, 0.0380), (2013.795, 0.0500), (2013.810, 0.0360), (2013.825, 0.0221),
    (2013.853, 0.0240), (2013.871, 0.0209), (2013.892, 0.0140), (2013.914, 0.0233), (2013.929, 0.0161),
    (2013.950, 0.0271), (2013.972, 0.0240), (2013.983, 0.0301), (2014.022, 0.0190), (2014.041, 0.0171),
    (2014.069, 0.0161), (2014.090, 0.0179), (2014.123, 0.0349), (2014.144, 0.0363), (2014.155, 0.0339),
    (2014.183, 0.0401), (2014.198, 0.0459), (2014.216, 0.0190), (2014.241, 0.0459), (2014.272, 0.0151),
    (2014.291, 0.0199), (2014.306, 0.0321), (2014.332, 0.0430), (2014.356, 0.0199), (2014.364, 0.0289),
    (2014.392, 0.0312), (2014.403, 0.0301), (2014.425, 0.0289), (2014.446, 0.0421), (2014.457, 0.0421),
    (2014.468, 0.0421), (2014.479, 0.0421), (2014.500, 0.0271), (2014.511, 0.0301), (2014.537, 0.0301),
    (2014.565, 0.0260), (2014.593, 0.0380), (2014.679, 0.0370), (2014.694, 0.0380), (2014.709, 0.0421),
    (2014.765, 0.0401), (2014.737, 0.0221), (2014.784, 0.0271), (2014.841, 0.0321), (2014.866, 0.0289),
    (2014.881, 0.0179), (2014.894, 0.0110), (2014.925, 0.0120), (2014.942, 0.0110), (2014.955, 0.0161),
    (2014.996, 0.0120), (2015.175, 0.0260), (2015.190, 0.0179), (2015.211, 0.0221), (2015.233, 0.0321),
    (2015.244, 0.0250), (2015.287, 0.0281), (2015.308, 0.0480), (2015.325, 0.0370), (2015.346, 0.0343),
    (2015.361, 0.0312), (2015.388, 0.0390), (2015.403, 0.0240), (2015.416, 0.0281), (2015.446, 0.0301),
    (2015.461, 0.0330), (2015.481, 0.0343), (2015.502, 0.0440), (2015.517, 0.0322), (2015.532, 0.0380),
    (2015.560, 0.0312), (2015.646, 0.0449), (2015.674, 0.0411), (2015.704, 0.0360), (2015.732, 0.0301),
    (2015.753, 0.0209), (2015.764, 0.0321), (2015.785, 0.0223), (2015.803, 0.0171), (2015.824, 0.0209),
    (2015.846, 0.0271), (2015.861, 0.0250), (2015.876, 0.0390), (2015.921, 0.0421), (2015.936, 0.0390),
    (2015.957, 0.0339), (2015.979, 0.0209), (2016.210, 0.0390), (2016.225, 0.0322), (2016.247, 0.0312),
    (2016.262, 0.0301), (2016.290, 0.0281), (2016.322, 0.0360), (2016.361, 0.0301), (2016.376, 0.0349),
    (2016.397, 0.0363), (2016.425, 0.0339), (2016.433, 0.0459), (2016.455, 0.0380), (2016.476, 0.0411),
    (2016.494, 0.0321), (2016.569, 0.0411), (2016.601, 0.0312), (2016.627, 0.0312), (2016.639, 0.0271),
    (2016.661, 0.0271), (2016.682, 0.0209), (2016.697, 0.0250), (2016.719, 0.0240), (2016.740, 0.0260),
    (2016.762, 0.0330), (2016.783, 0.0430), (2016.794, 0.0289), (2016.815, 0.0281), (2016.837, 0.0380),
    (2016.854, 0.0289), (2016.869, 0.0232), (2016.897, 0.0171), (2016.912, 0.0130), (2016.927, 0.0179),
    (2016.955, 0.0130), (2016.970, 0.0151), (2016.987, 0.0411), (2017.009, 0.0161), (2017.030, 0.0161),
    (2017.127, 0.0190), (2017.142, 0.0221), (2017.159, 0.0221), (2017.185, 0.0339), (2017.202, 0.0209),
    (2017.223, 0.0240), (2017.240, 0.0240), (2017.255, 0.0301), (2017.277, 0.0260), (2017.298, 0.0390),
    (2017.313, 0.0199), (2017.341, 0.0260), (2017.354, 0.0240), (2017.373, 0.0339), (2017.391, 0.0360),
    (2017.412, 0.0240), (2017.433, 0.0250), (2017.448, 0.0209), (2017.470, 0.0260), (2017.491, 0.0240),
    (2017.700, 0.0321), (2017.717, 0.0321), (2017.734, 0.0360), (2017.777, 0.0360), (2017.792, 0.0380),
    (2017.813, 0.0330), (2017.835, 0.0250), (2017.850, 0.0401), (2017.871, 0.0339), (2017.884, 0.0161),
    (2017.899, 0.0151), (2017.927, 0.0130), (2017.948, 0.0190), (2017.964, 0.0171), (2017.985, 0.0190),
    (2018.006, 0.0179), (2018.021, 0.0161), (2018.060, 0.0190), (2018.157, 0.0250), (2018.232, 0.0360),
    (2018.285, 0.0301), (2018.464, 0.0380), (2018.629, 0.0360), (2018.747, 0.0360), (2018.807, 0.0301),
    (2018.822, 0.0240), (2018.840, 0.0199), (2018.879, 0.0360), (2018.895, 0.0209), (2018.916, 0.0190),
    (2018.938, 0.0260), (2018.976, 0.0199), (2019.048, 0.0179), (2019.070, 0.0161), (2019.099, 0.0289),
    (2019.114, 0.0199), (2019.130, 0.0209), (2019.149, 0.0279), (2019.171, 0.0279), (2019.189, 0.0279),
    (2019.224, 0.0312), (2019.246, 0.0301), (2019.268, 0.0330), (2019.284, 0.0209), (2019.301, 0.0229),
    (2019.327, 0.0240), (2019.341, 0.0330), (2019.385, 0.0394), (2019.400, 0.0369), (2019.411, 0.0343),
    (2019.444, 0.0343), (2019.473, 0.0301), (2019.499, 0.0362), (2019.517, 0.0330), (2019.532, 0.0343),
    (2019.554, 0.0380), (2019.642, 0.0339), (2019.670, 0.0349), (2019.802, 0.0289), (2019.815, 0.0321),
    (2019.840, 0.0279), (2019.857, 0.0240), (2019.916, 0.0260), (2019.934, 0.0199), (2019.960, 0.0161),
    (2019.987, 0.0199), (2020.015, 0.0240), (2020.048, 0.0321), (2020.070, 0.0260), (2020.088, 0.0343),
    (2020.103, 0.0301), (2020.119, 0.0380), (2020.132, 0.0401), (2020.147, 0.0401), (2020.180, 0.0343),
    (2020.207, 0.0360), (2020.220, 0.0279), (2020.242, 0.0260), (2020.264, 0.0321), (2020.279, 0.0240),
    (2020.301, 0.0260), (2020.323, 0.0221), (2020.334, 0.0279), (2020.411, 0.0380), (2020.433, 0.0360),
    (2020.466, 0.0330), (2020.492, 0.0390), (2020.514, 0.0343), (2020.527, 0.0312), (2020.734, 0.0330),
    (2020.752, 0.0330), (2020.785, 0.0240), (2020.800, 0.0279), (2020.813, 0.0199), (2020.840, 0.0250),
    (2020.862, 0.0199), (2020.873, 0.0260), (2020.895, 0.0360), (2020.910, 0.0221), (2020.927, 0.0240),
    (2020.949, 0.0221), (2020.971, 0.0240), (2020.989, 0.0221), (2021.081, 0.0260), (2021.103, 0.0260),
    (2021.125, 0.0321), (2021.143, 0.0301), (2021.196, 0.0411), (2021.218, 0.0449), (2021.246, 0.0411),
    (2021.268, 0.0330), (2021.297, 0.0321), (2021.312, 0.0349), (2021.327, 0.0459), (2021.356, 0.0459),
    (2021.433, 0.0469), (2021.451, 0.0301), (2021.477, 0.0199), (2021.488, 0.0289), (2021.565, 0.0330),
    (2021.587, 0.0349), (2021.631, 0.0349), (2021.701, 0.0469), (2021.763, 0.0401), (2021.780, 0.0469),
    (2021.807, 0.0250), (2021.829, 0.0179), (2021.851, 0.0171), (2021.868, 0.0330), (2021.890, 0.0140),
    (2021.912, 0.0130), (2021.927, 0.0209), (2021.949, 0.0140), (2021.971, 0.0151),
]

RED = "#C00000"
W, H = 3217, 3620


def axes_rect(left, right, top, bottom):
    return [left / W, 1 - bottom / H, (right - left) / W, (bottom - top) / H]


fig = plt.figure(figsize=(W / 100, H / 100), dpi=100)

panels = [
    dict(rect=axes_rect(310, 3184, 156, 899), sim=flow_sim, obs=flow_obs + flow_obs_low,
         ylim=(0, 200), yticks=[0, 50, 100, 150, 200], fmt="{:.2f}", ylabel="Flow (m³/s)",
         legend_y=51, caption=r"($\mathbf{a}$) Flow", cap_y=1107),
    dict(rect=axes_rect(204, 3184, 1367, 2110), sim=bod_sim, obs=bod_obs,
         ylim=(0, 10), yticks=[0, 2, 4, 6, 8, 10], fmt="{:.0f}", ylabel="BOD (mg/L)",
         legend_y=1262, caption=r"($\mathbf{b}$) BOD", cap_y=2333),
    dict(rect=axes_rect(279, 3184, 2589, 3335), sim=tp_sim, obs=tp_obs,
         ylim=(0, 0.1), yticks=[0, 0.025, 0.05, 0.075, 0.1], fmt="{:.3f}", ylabel="TP (mg/L)",
         legend_y=2490, caption=r"($\mathbf{c}$) TP", cap_y=3560),
]

MS, MEW = 9.5, 3.3

for p in panels:
    ax = fig.add_axes(p["rect"])
    st, sv = np.array(p["sim"]).T
    ot, ov = np.array(p["obs"]).T
    ax.plot(st, sv, color="black", lw=5.2, solid_joinstyle="round", zorder=2)
    ax.plot(ot, ov, linestyle="none", marker="o", ms=MS, mfc="none", mec=RED, mew=MEW, zorder=3)
    ax.axvline(split_year, color="#808080", lw=5.5, linestyle=(0, (3.0, 1.6)), zorder=4)

    ax.set_xlim(2012, 2022)
    ax.set_ylim(*p["ylim"])
    ax.set_xticks(year_ticks)
    ax.set_xticklabels(year_labels)
    ax.set_yticks(p["yticks"])
    ax.set_yticklabels([p["fmt"].format(v) for v in p["yticks"]])
    ax.tick_params(axis="both", direction="out", length=14, width=2.4, labelsize=41, colors="black")
    ax.tick_params(axis="y", pad=22)
    ax.tick_params(axis="x", pad=12)
    for s in ax.spines.values():
        s.set_linewidth(2.4)
        s.set_color("black")

    r = p["rect"]
    fig.text(46 / W, r[1] + r[3] / 2, p["ylabel"], rotation=90, ha="center", va="center", fontsize=42)

    handles = [
        Line2D([], [], color="black", lw=5.5),
        Line2D([], [], linestyle="none", marker="o", ms=MS, mfc="none", mec=RED, mew=MEW),
    ]
    fig.legend(handles, ["Simulation", "Observation"], loc="center",
               bbox_to_anchor=(0.4996, 1 - p["legend_y"] / H), ncol=2, frameon=False,
               fontsize=42, handlelength=1.65, handletextpad=0.3, columnspacing=1.1,
               borderpad=0, borderaxespad=0)

    fig.text(0.496, 1 - p["cap_y"] / H, p["caption"], ha="center", va="center", fontsize=62)

fig.savefig("out.png", dpi=100)
